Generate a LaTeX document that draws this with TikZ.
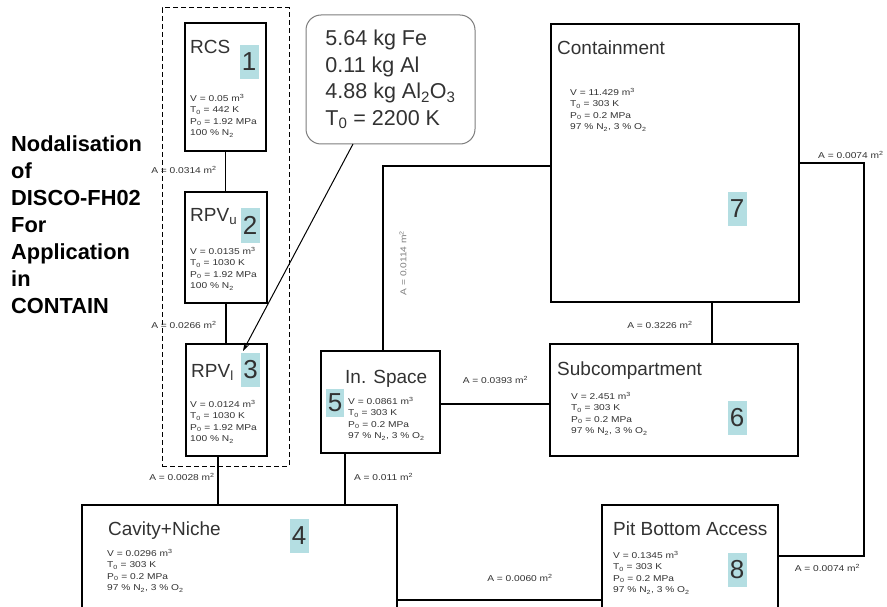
\documentclass[tikz,border=0pt]{standalone}
\usepackage{fontspec}
\setmainfont{Liberation Sans}
\newfontfamily\smallfont[FakeStretch=1.2]{Liberation Sans}
\usetikzlibrary{
    arrows.meta,
    positioning,
    calc
}
\definecolor{numteal}{RGB}{180, 222, 226}
\definecolor{txtgray}{RGB}{50, 50, 50}
\definecolor{notegray}{RGB}{125, 125, 125}

\begin{document}
\begin{tikzpicture}[
        x=1pt, y=-1pt,
        box/.style={rectangle, draw, line width=1.1pt, inner sep=0pt},
        group/.style={rectangle, draw, dashed, line width=1pt, inner sep=0pt, dash pattern=on 5pt off 3pt},
        note/.style={rectangle, draw=notegray, rounded corners=15pt, line width=1pt, align=left, text=txtgray, font=\fontsize{21.5}{26.5}\selectfont},
        title/.style={anchor=base west, inner sep=0pt, text=txtgray, font=\fontsize{19}{19}\selectfont},
        data/.style={anchor=north west, inner sep=0pt, align=left, text=txtgray, font=\smallfont\fontsize{8.5}{11.5}\selectfont},
        num/.style={fill=numteal, minimum width=19pt, minimum height=34pt, inner sep=0pt, text=txtgray, font=\fontsize{26}{26}\selectfont},
        area/.style={inner sep=0pt, text=txtgray, font=\smallfont\fontsize{8.5}{8.5}\selectfont},
        link/.style={line width=1.1pt},
        arrow/.style={-{Stealth[length=8pt, width=5pt]}, line width=1pt}
    ]
        \clip (0,0) rectangle (887,607);

        % Heading
        \node[anchor=west, align=left, inner sep=0pt, font=\bfseries\fontsize{21.8}{27}\selectfont] (heading) at (11,225)
            {Nodalisation\\of\\DISCO-FH02\\For\\Application\\in\\CONTAIN};

        % Reactor side
        \node[group, minimum width=127, minimum height=458] (grp) at (225.5,237) {};
        \node[box, minimum width=81, minimum height=128] (rcs) at (225.5,87) {};
        \node[title] (rcstitle) at (190,54) {RCS};
        \node[num] (rcsno) at (249,62) {1};
        \node[data] (rcsdata) at (190,94) {V = 0.05 m\textsuperscript{3}\\T\textsubscript{0} = 442 K\\P\textsubscript{0} = 1.92 MPa\\100 \% N\textsubscript{2}};

        \node[box, minimum width=82, minimum height=111] (rpvu) at (226,247.5) {};
        \node[title] (rpvutitle) at (190,222) {RPV\textsubscript{u}};
        \node[num] (rpvuno) at (250,225.5) {2};
        \node[data] (rpvudata) at (190,247) {V = 0.0135 m\textsuperscript{3}\\T\textsubscript{0} = 1030 K\\P\textsubscript{0} = 1.92 MPa\\100 \% N\textsubscript{2}};

        \node[box, minimum width=81, minimum height=112] (rpvl) at (226.5,400) {};
        \node[title] (rpvltitle) at (191,377) {RPV\textsubscript{l}};
        \node[num] (rpvlno) at (250.5,369.5) {3};
        \node[data] (rpvldata) at (190,400) {V = 0.0124 m\textsuperscript{3}\\T\textsubscript{0} = 1030 K\\P\textsubscript{0} = 1.92 MPa\\100 \% N\textsubscript{2}};

        % Debris note
        \node[note, minimum width=169, minimum height=129] (debris) at (390.5,79.5)
            {5.64 kg Fe\\0.11 kg Al\\4.88 kg Al\textsubscript{2}O\textsubscript{3}\\T\textsubscript{0} = 2200 K};
        \coordinate (debrisfoot) at (353,144);
        \coordinate (rpvltip) at (243,351);

        % Lower compartments
        \node[box, minimum width=119, minimum height=102] (ins) at (380.5,402) {};
        \node[title] (institle) at (345,383) {In. Space};
        \node[num, minimum width=18, minimum height=28] (insno) at (335,403) {5};
        \node[data] (insdata) at (348,397) {V = 0.0861 m\textsuperscript{3}\\T\textsubscript{0} = 303 K\\P\textsubscript{0} = 0.2 MPa\\97 \% N\textsubscript{2}, 3 \% O\textsubscript{2}};

        \node[box, minimum width=315, minimum height=120] (cav) at (239.5,565) {};
        \node[title] (cavtitle) at (108,535) {Cavity+Niche};
        \node[num] (cavno) at (299,535.5) {4};
        \node[data] (cavdata) at (107,549) {V = 0.0296 m\textsuperscript{3}\\T\textsubscript{0} = 303 K\\P\textsubscript{0} = 0.2 MPa\\97 \% N\textsubscript{2}, 3 \% O\textsubscript{2}};

        \node[box, minimum width=176, minimum height=120] (pit) at (690,565) {};
        \node[title] (pittitle) at (613,535) {Pit Bottom Access};
        \node[num] (pitno) at (737,569.5) {8};
        \node[data] (pitdata) at (613,551) {V = 0.1345 m\textsuperscript{3}\\T\textsubscript{0} = 303 K\\P\textsubscript{0} = 0.2 MPa\\97 \% N\textsubscript{2}, 3 \% O\textsubscript{2}};

        % Containment side
        \node[box, minimum width=248, minimum height=278] (cont) at (675,163) {};
        \node[title] (conttitle) at (557,55) {Containment};
        \node[num] (contno) at (737,209) {7};
        \node[data] (contdata) at (570,88) {V = 11.429 m\textsuperscript{3}\\T\textsubscript{0} = 303 K\\P\textsubscript{0} = 0.2 MPa\\97 \% N\textsubscript{2}, 3 \% O\textsubscript{2}};

        \node[box, minimum width=248, minimum height=112] (sub) at (674,400) {};
        \node[title] (subtitle) at (557,375) {Subcompartment};
        \node[num] (subno) at (737,417.5) {6};
        \node[data] (subdata) at (571,392) {V = 2.451 m\textsuperscript{3}\\T\textsubscript{0} = 303 K\\P\textsubscript{0} = 0.2 MPa\\97 \% N\textsubscript{2}, 3 \% O\textsubscript{2}};

        \coordinate (rbend) at (864,163);

        % Flow paths
        \draw[link] (rcs.south) -- (rcs.south |- rpvu.north);
        \draw[link] (rpvu.south) -- (rpvu.south |- rpvl.north);
        \draw[link] ([xshift=-8.5]rpvl.south) -- ([xshift=-8.5]rpvl.south |- cav.north);
        \draw[link] ([xshift=-35.5]ins.south) -- ([xshift=-35.5]ins.south |- cav.north);
        \draw[link] ([xshift=2.5]ins.north) |- ([yshift=-3]cont.west);
        \draw[link] ([yshift=-2]ins.east) -- ([yshift=-2]ins.east -| sub.west);
        \draw[link] ([xshift=37]cont.south) -- ([xshift=37]cont.south |- sub.north);
        \draw[link] (cont.east) -- (rbend) |- ([yshift=9]pit.east);
        \draw[link] ([yshift=-35]cav.east) -- ([yshift=-35]cav.east -| pit.west);
        \draw[arrow] (debrisfoot) -- (rpvltip);

        % Flow areas
        \node[area] (a1) at (184,170) {A = 0.0314 m\textsuperscript{2}};
        \node[area] (a2) at (184,325) {A = 0.0266 m\textsuperscript{2}};
        \node[area] (a3) at (182,477) {A = 0.0028 m\textsuperscript{2}};
        \node[area] (a4) at (383.5,477) {A = 0.011 m\textsuperscript{2}};
        \node[area, rotate=90, text=notegray] (a5) at (403,263) {A = 0.0114 m\textsuperscript{2}};
        \node[area] (a6) at (495.5,380) {A = 0.0393 m\textsuperscript{2}};
        \node[area] (a7) at (660,325) {A = 0.3226 m\textsuperscript{2}};
        \node[area, anchor=west] (a8) at (818,155) {A = 0.0074 m\textsuperscript{2}};
        \node[area] (a9) at (827.5,568) {A = 0.0074 m\textsuperscript{2}};
        \node[area] (a10) at (520,578) {A = 0.0060 m\textsuperscript{2}};
    \end{tikzpicture}
\end{document}
